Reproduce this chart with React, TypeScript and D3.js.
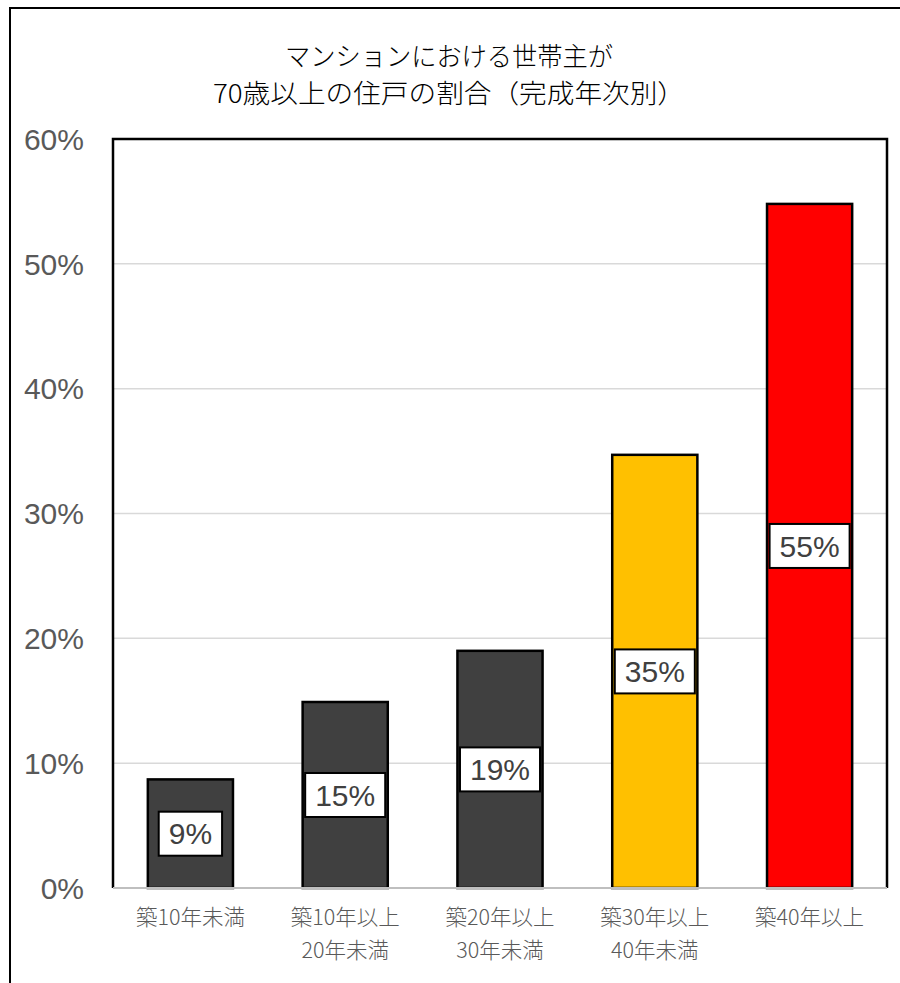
import React from "react";
import * as d3 from "d3";

const titleLines = ["マンションにおける世帯主が", "70歳以上の住戸の割合（完成年次別）"];
const categories = [
  ["築10年未満"],
  ["築10年以上", "20年未満"],
  ["築20年以上", "30年未満"],
  ["築30年以上", "40年未満"],
  ["築40年以上"],
];
const values = [8.7, 14.9, 19.0, 34.7, 54.8];
const barColors = ["#404040", "#404040", "#404040", "#FFC000", "#FF0000"];
const yTicks = [0, 10, 20, 30, 40, 50, 60];

const W = 900;
const H = 983;
const plot = { left: 113, right: 887, top: 139, bottom: 888 };
const cjk = "'Noto Sans CJK JP', 'Noto Sans', sans-serif";
const num = "'Liberation Sans', Arial, sans-serif";

export default function App() {
  const x = d3
    .scaleBand<number>()
    .domain(d3.range(values.length))
    .range([plot.left, plot.right])
    .paddingInner(0.45)
    .paddingOuter(0.225);
  const y = d3.scaleLinear().domain([0, 60]).range([plot.bottom, plot.top]);
  const labelFont = 30;
  const charW = (s: string) =>
    s.split("").reduce((a, c) => a + (c === "%" ? 0.889 : 0.556), 0) * labelFont;

  return (
    <svg
      width={W}
      height={H}
      style={{ position: "absolute", left: 0, top: 0, background: "#fff" }}
    >
      <rect x={0} y={0} width={W} height={H} fill="#fff" />
      {/* outer chart border */}
      <rect x={10} y={8} width={1000} height={1100} fill="none" stroke="#000" strokeWidth={2} />
      {/* title */}
      <text
        x={449}
        y={66}
        textAnchor="middle"
        fontFamily={cjk}
        fontSize={26}
        fontWeight={300}
        fill="#000"
        textLength={328}
        lengthAdjust="spacingAndGlyphs"
      >
        {titleLines[0]}
      </text>
      <text
        x={449}
        y={103}
        textAnchor="middle"
        fontFamily={cjk}
        fontSize={26}
        fontWeight={300}
        fill="#000"
        textLength={472}
        lengthAdjust="spacingAndGlyphs"
      >
        {titleLines[1]}
      </text>
      {/* gridlines */}
      {yTicks.slice(1, -1).map((t) => (
        <line
          key={t}
          x1={plot.left}
          x2={plot.right}
          y1={y(t)}
          y2={y(t)}
          stroke="#d9d9d9"
          strokeWidth={1.5}
        />
      ))}
      {/* y tick labels */}
      {yTicks.map((t) => (
        <text
          key={t}
          x={84}
          y={y(t)}
          dy="0.36em"
          textAnchor="end"
          fontFamily={num}
          fontSize={30}
          fill="#595959"
        >
          {t}%
        </text>
      ))}
      {/* bars */}
      {values.map((v, i) => (
        <rect
          key={i}
          x={x(i)!}
          y={y(v)}
          width={x.bandwidth()}
          height={y(0) - y(v)}
          fill={barColors[i]}
          stroke="#000"
          strokeWidth={2.5}
        />
      ))}
      {/* plot area border */}
      <path
        d={`M${plot.left},${plot.bottom} V${plot.top} H${plot.right} V${plot.bottom}`}
        fill="none"
        stroke="#000"
        strokeWidth={2.5}
      />
      {/* x axis line */}
      <line
        x1={plot.left}
        x2={plot.right}
        y1={plot.bottom}
        y2={plot.bottom}
        stroke="#bfbfbf"
        strokeWidth={2}
      />
      {/* data labels */}
      {values.map((v, i) => {
        const txt = `${Math.round(v)}%`;
        const cx = x(i)! + x.bandwidth() / 2;
        const cy = (y(v) + y(0)) / 2;
        const bw = charW(txt) + 20;
        const bh = 44;
        return (
          <g key={i}>
            <rect
              x={cx - bw / 2}
              y={cy - bh / 2}
              width={bw}
              height={bh}
              fill="#fff"
              stroke="#000"
              strokeWidth={2}
            />
            <text
              x={cx}
              y={cy}
              dy="0.36em"
              textAnchor="middle"
              fontFamily={num}
              fontSize={labelFont}
              fill="#404040"
            >
              {txt}
            </text>
          </g>
        );
      })}
      {/* x labels */}
      {categories.map((lines, i) => {
        const cx = x(i)! + x.bandwidth() / 2;
        return (
          <text
            key={i}
            textAnchor="middle"
            fontFamily={cjk}
            fontSize={21.5}
            fontWeight={300}
            fill="#595959"
          >
            {lines.map((l, j) => (
              <tspan key={j} x={cx} y={917 + j * 33} dy="0.36em">
                {l}
              </tspan>
            ))}
          </text>
        );
      })}
    </svg>
  );
}
